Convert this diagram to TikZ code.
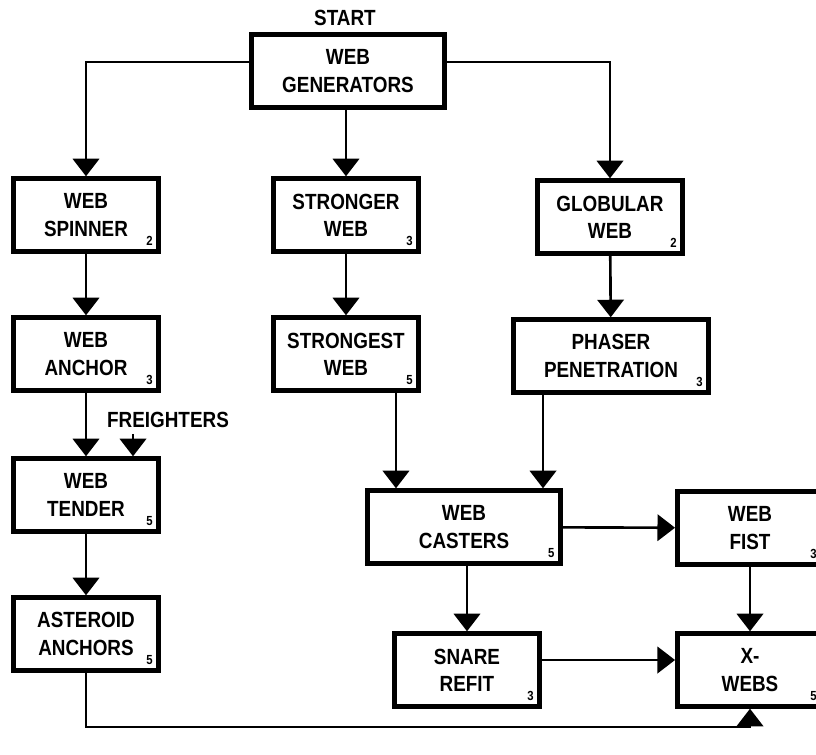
\documentclass[tikz,border=0pt]{standalone}
\usepackage{fontspec}
\setmainfont{Liberation Sans}[FakeStretch=0.86]
\usetikzlibrary{arrows.meta}

\begin{document}
\begin{tikzpicture}
[
	x=0.02cm,
	y=-0.02cm,
	box/.style={draw,line width=2.8pt,align=center,minimum width=2.9cm,minimum height=1.45cm,inner sep=2pt,font=\fontsize{12.5}{15.5}\selectfont\bfseries},
	widebox/.style={box,minimum width=3.85cm},
	num/.style={font=\fontsize{7.5}{8}\selectfont\bfseries,anchor=south east,inner sep=4.5pt},
	arr/.style={line width=1.5pt,-{Triangle[width=15pt,length=10pt]}},
	line/.style={line width=1.5pt}
]

	\useasboundingbox (0,0) rectangle (816,755);
	\clip (0,0) rectangle (816,755);

	% boxes
	\node[widebox] (gen) at (348,71) {WEB\\GENERATORS};
	\node[font=\fontsize{12.5}{15}\selectfont\bfseries] (start) at (345,18) {START};

	\node[box,label={[num]south east:2}] (spinner) at (86,215) {WEB\\SPINNER};
	\node[box,label={[num]south east:3}] (stronger) at (346,215) {STRONGER\\WEB};
	\node[box,label={[num]south east:2}] (globular) at (610,217) {GLOBULAR\\WEB};

	\node[box,label={[num]south east:3}] (anchor) at (86,354) {WEB\\ANCHOR};
	\node[box,label={[num]south east:5}] (strongest) at (346,354) {STRONGEST\\WEB};
	\node[widebox,minimum width=3.9cm,label={[num]south east:3}] (phaser) at (611,356) {PHASER\\PENETRATION};

	\node[font=\fontsize{12.5}{15}\selectfont\bfseries] (freight) at (168,420) {FREIGHTERS};
	\node[box,label={[num]south east:5}] (tender) at (86,495) {WEB\\TENDER};
	\node[box,label={[num]south east:5}] (asteroid) at (86,634) {ASTEROID\\ANCHORS};

	\node[widebox,label={[num]south east:5}] (casters) at (464,527) {WEB\\CASTERS};
	\node[box,label={[num]south east:3}] (fist) at (750,528) {WEB\\FIST};
	\node[box,label={[num]south east:3}] (snare) at (467,670) {SNARE\\REFIT};
	\node[box,label={[num]south east:5}] (xwebs) at (750,670) {X-\\WEBS};

	% connectors
	\draw[arr] ([yshift=0.18cm]gen.west) -| (spinner.north);
	\draw[arr] ([yshift=0.18cm]gen.east) -| (globular.north);
	\draw[arr] (gen.south -| stronger.north) -- (stronger.north);

	\draw[arr] (spinner) -- (anchor);
	\draw[arr] (stronger) -- (strongest);
	\draw[arr] (globular) -- (phaser);

	\draw[arr] (anchor) -- (tender);
	\draw[arr] ([xshift=-0.7cm]freight.south) -- ([xshift=-0.7cm]freight.south |- tender.north);
	\draw[arr] (tender) -- (asteroid);

	\draw[arr] ([xshift=1cm]strongest.south) -- ([xshift=1cm]strongest.south |- casters.north);
	\draw[arr] ([xshift=-1.36cm]phaser.south) -- ([xshift=-1.36cm]phaser.south |- casters.north);

	\draw[arr] (casters) -- (fist);
	\draw[arr] (casters.south -| snare.north) -- (snare.north);
	\draw[arr] ([yshift=0.2cm]snare.east) -- ([yshift=0.2cm]snare.east -| xwebs.west);
	\draw[arr] (fist) -- (xwebs);

	\coordinate (low) at (400,727);
	\draw[arr] (asteroid.south) |- (low) -| (xwebs.south);

\end{tikzpicture}
\end{document}
